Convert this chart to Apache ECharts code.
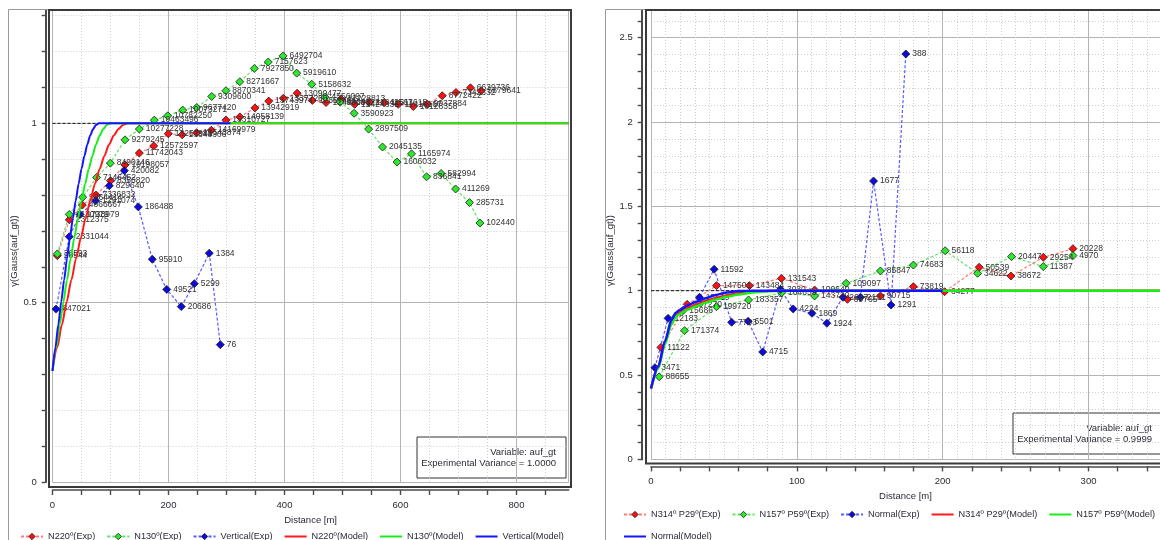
<!DOCTYPE html>
<html>
<head>
<meta charset="utf-8">
<script src="https://cdn.jsdelivr.net/npm/echarts@6/dist/echarts.min.js"></script>
<style>
  html, body { margin: 0; padding: 0; background: #fff; }
  #chart { width: 1160px; height: 540px; }
</style>
</head>
<body>
<div id="chart"></div>
<script>
// ---------- Left panel: horizontal + vertical directions ----------
const n220Dist  = [8.3, 29, 51.4, 75, 100, 125, 149.7, 174.5, 199.7, 223.6, 248.6, 273.8, 299, 323, 349, 372.8, 398, 421.8, 447.9, 471.6, 497.4, 521, 546, 572, 596, 622, 646, 672, 695.7, 720.6, 739];
const n220Gamma = [0.631, 0.731, 0.772, 0.800, 0.840, 0.884, 0.917, 0.937, 0.971, 0.968, 0.974, 0.981, 1.009, 1.018, 1.043, 1.062, 1.070, 1.084, 1.064, 1.058, 1.068, 1.053, 1.059, 1.058, 1.053, 1.047, 1.054, 1.077, 1.086, 1.099, 1.091];
const n220Pairs = [28544, 2312375, 4866667, 7336832, 8356820, 10198057, 11742043, 12572597, 13257981, 13348306, 13543874, 14169979, 13310727, 14058139, 13942919, 13743974, 13377260, 13090477, 12657401, 12498083, 12228813, 12424335, 11841567, 11611615, 11416167, 10128358, 9037884, 8772422, 7342332, 6639736, 5879641];

const n130Dist  = [8.3, 28.9, 52, 76, 99.7, 125, 149.7, 175.6, 198.6, 224.5, 248.6, 274.5, 299, 323, 348, 372, 397.5, 421, 447, 470, 496, 520, 545, 569, 594, 619, 645, 670, 695, 719, 737];
const n130Gamma = [0.636, 0.746, 0.794, 0.849, 0.889, 0.954, 0.984, 1.009, 1.021, 1.037, 1.044, 1.075, 1.091, 1.116, 1.153, 1.171, 1.188, 1.140, 1.109, 1.073, 1.059, 1.028, 0.984, 0.934, 0.892, 0.915, 0.851, 0.860, 0.817, 0.779, 0.722];
const n130Pairs = [36593, 2130979, 5264414, 7146452, 8490146, 9279245, 10277228, 10463496, 10782250, 10073271, 9677420, 9309600, 8870341, 8271667, 7927850, 7157623, 6492704, 5919610, 5158632, 4556097, 4069422, 3590923, 2897509, 2045135, 1606032, 1165974, 836841, 582994, 411269, 285731, 102440];

const vertDist  = [6, 29, 47.4, 74.5, 98, 123.9, 148, 172, 197, 222, 244.5, 270.3, 289.3];
const vertGamma = [0.482, 0.684, 0.746, 0.784, 0.826, 0.868, 0.767, 0.621, 0.537, 0.489, 0.553, 0.638, 0.383];
const vertPairs = [847021, 2331044, 1738979, 1291074, 829640, 420082, 186488, 95910, 49521, 20686, 5299, 1384, 76];

// fitted models (nugget 0.31, sill 1)
const n220ModelDist  = [0, 8.1, 16.3, 24.4, 32.5, 40.6, 48.8, 56.9, 65, 73.1, 81.3, 89.4, 97.5, 105.6, 113.8, 121.9, 130, 890];
const n220ModelGamma = [0.31, 0.375, 0.439, 0.502, 0.563, 0.623, 0.680, 0.734, 0.784, 0.831, 0.873, 0.909, 0.941, 0.966, 0.984, 0.996, 1, 1];
const n130ModelDist  = [0, 6.25, 12.5, 18.75, 25, 31.25, 37.5, 43.75, 50, 56.25, 62.5, 68.75, 75, 81.25, 87.5, 93.75, 100, 890];
const n130ModelGamma = [0.31, 0.375, 0.439, 0.502, 0.563, 0.623, 0.680, 0.734, 0.784, 0.831, 0.873, 0.909, 0.941, 0.966, 0.984, 0.996, 1, 1];
const vertModelDist  = [0, 5, 10, 15, 20, 25, 30, 35, 40, 45, 50, 55, 60, 65, 70, 75, 80, 307];
const vertModelGamma = [0.31, 0.375, 0.439, 0.502, 0.563, 0.623, 0.680, 0.734, 0.784, 0.831, 0.873, 0.909, 0.941, 0.966, 0.984, 0.996, 1, 1];

// ---------- Right panel: dipping directions + normal ----------
const n314Dist  = [6.8, 24.8, 44.9, 67.5, 89.4, 112.2, 134.7, 157.3, 179.9, 201.3, 225, 246.8, 269, 289.3];
const n314Gamma = [0.664, 0.919, 1.030, 1.030, 1.073, 1.004, 0.949, 0.969, 1.024, 0.994, 1.139, 1.087, 1.198, 1.249];
const n314Pairs = [11122, 137270, 147501, 143484, 131543, 100640, 89765, 90715, 73819, 64277, 50539, 38672, 29254, 20228];

const n157Dist  = [5.6, 23.0, 44.9, 66.9, 89.6, 112.2, 133.8, 157.3, 179.9, 201.7, 223.9, 247.2, 269, 289.3];
const n157Gamma = [0.490, 0.763, 0.905, 0.945, 0.988, 0.969, 1.044, 1.117, 1.152, 1.237, 1.103, 1.202, 1.143, 1.208];
const n157Pairs = [88655, 171374, 199720, 183357, 164653, 143720, 109097, 85847, 74683, 56118, 34622, 20447, 11387, 4970];

const normDist  = [2.7, 11.7, 21.9, 33.2, 43.3, 55.3, 66.6, 76.6, 88.8, 97.5, 110.4, 120.6, 131.6, 143.6, 152.6, 164.6, 174.7];
const normGamma = [0.544, 0.836, 0.882, 0.961, 1.127, 0.813, 0.819, 0.637, 1.008, 0.892, 0.866, 0.807, 0.961, 0.961, 1.650, 0.915, 2.403];
const normPairs = [3471, 12183, 15686, 15519, 11592, 7793, 6501, 4715, 3030, 4224, 1869, 1924, 2647, 2131, 1677, 1291, 388];

const n314ModelDist  = [0, 5, 9.5, 14, 17, 19.6, 25, 31, 38, 44.5, 52, 60, 70, 80, 90, 349];
const n314ModelGamma = [0.42, 0.55, 0.69, 0.81, 0.855, 0.872, 0.897, 0.918, 0.94, 0.957, 0.972, 0.985, 0.994, 0.999, 1, 1];
const n157ModelDist  = [0, 5, 9.5, 14, 17, 19.6, 25, 31, 38, 44.5, 52, 60, 70, 80, 90, 349];
const n157ModelGamma = [0.42, 0.54, 0.68, 0.80, 0.845, 0.862, 0.887, 0.908, 0.93, 0.948, 0.964, 0.978, 0.99, 0.997, 1, 1];
const normModelDist  = [0, 5, 9.5, 14, 17, 19.6, 25, 31, 38, 44.5, 52, 60, 70, 200];
const normModelGamma = [0.42, 0.55, 0.70, 0.826, 0.87, 0.886, 0.913, 0.935, 0.957, 0.975, 0.99, 0.998, 1, 1];

const sill = 1;

// axis ticks / labels
const leftXLabels  = [0, 200, 400, 600, 800];
const leftYLabels  = [0, 0.5, 1];
const rightXLabels = [0, 100, 200, 300];
const rightYLabels = [0, 0.5, 1, 1.5, 2, 2.5];

const leftNames  = ['N220º(Exp)', 'N130º(Exp)', 'Vertical(Exp)', 'N220º(Model)', 'N130º(Model)', 'Vertical(Model)'];
const rightNames = ['N314º P29º(Exp)', 'N157º P59º(Exp)', 'Normal(Exp)', 'N314º P29º(Model)', 'N157º P59º(Model)', 'Normal(Model)'];

// ---------- styling / layout ----------
const FONT = 'Liberation Sans, Arial, sans-serif';
const TXT = '#2a2a35';
const RED = '#ff1010', GREEN = '#2ee82e', BLUE = '#0a0ae0';
const RED_DASH = '#ff7a7a', GREEN_DASH = '#66e066', BLUE_DASH = '#5a5aff';
const RED_MODEL = '#ff1a1a', GREEN_MODEL = '#1aee1a', BLUE_MODEL = '#1414ff';
const MARK_COLORS = [RED, GREEN, BLUE];

function steps(a, b, s) {
  const out = [];
  for (let v = a; v <= b + 1e-9; v += s) out.push(Math.round(v * 1000) / 1000);
  return out;
}

const panels = [
  { grid: { left: 52.5, top: 10, width: 516.2, height: 472 },
    xMax: 890, xTickStep: 50, xTickMax: 850, xDot: 50, xMajor: 200, xLabels: leftXLabels, xOffset: 8,
    yMax: 1.316, yTickMax: 1.3, yDot: 0.1, yMajor: 0.5, yLabels: leftYLabels, yOffset: 6.8, yNameShift: 10 },
  { grid: { left: 651, top: 10, width: 515.5, height: 449.4 },
    xMax: 349, xTickStep: 20, xTickMax: 340, xDot: 10, xMajor: 100, xLabels: rightXLabels, xOffset: 7,
    yMax: 2.664, yTickMax: 2.6, yDot: 0.1, yMajor: 0.5, yLabels: rightYLabels, yOffset: 9.3, yNameShift: 32 }
];

const grids = [], xAxes = [], yAxes = [];
panels.forEach((p, gi) => {
  grids.push(Object.assign({ containLabel: false }, p.grid));
  const hidden = { axisLine: { show: false }, axisTick: { show: false }, axisLabel: { show: false } };
  // main axis: line, ticks, labels, title
  xAxes.push({
    type: 'value', gridIndex: gi, min: 0, max: p.xMax, interval: p.xTickStep,
    position: 'bottom', offset: p.xOffset,
    axisLine: { show: true, onZero: false, lineStyle: { color: '#4a4a4a', width: 1.6 } },
    axisTick: { show: true, length: 5, customValues: steps(0, p.xTickMax, p.xTickStep), lineStyle: { color: '#4a4a4a', width: 1.4 } },
    axisLabel: { show: true, customValues: p.xLabels, margin: 10, fontSize: 9.5, color: TXT, fontFamily: FONT },
    splitLine: { show: false },
    name: 'Distance [m]', nameLocation: 'middle', nameGap: 23,
    nameTextStyle: { fontSize: 9.5, color: TXT, fontFamily: FONT }
  });
  // dotted minor grid
  xAxes.push(Object.assign({
    type: 'value', gridIndex: gi, min: 0, max: p.xMax, interval: p.xDot,
    splitLine: { show: true, lineStyle: { color: '#cfcfcf', width: 1, type: [1, 2] } }
  }, hidden));
  // solid major grid
  xAxes.push(Object.assign({
    type: 'value', gridIndex: gi, min: 0, max: p.xMax, interval: p.xMajor,
    splitLine: { show: true, lineStyle: { color: '#b4b4b4', width: 1 } }
  }, hidden));

  yAxes.push({
    type: 'value', gridIndex: gi, min: 0, max: p.yMax, interval: 0.1,
    position: 'left', offset: p.yOffset,
    axisLine: { show: true, onZero: false, lineStyle: { color: '#4a4a4a', width: 2 } },
    axisTick: { show: true, length: 4, customValues: steps(0, p.yTickMax, 0.1), lineStyle: { color: '#4a4a4a', width: 1.4 } },
    axisLabel: { show: true, customValues: p.yLabels, margin: 9, fontSize: 9.5, color: TXT, fontFamily: FONT },
    splitLine: { show: false },
    name: 'γ(Gauss(auf_gt))', nameLocation: 'middle', nameGap: 22, nameRotate: 90,
    nameTextStyle: { fontSize: 9.5, color: TXT, fontFamily: FONT, padding: [0, p.yNameShift, 0, 0] }
  });
  yAxes.push(Object.assign({
    type: 'value', gridIndex: gi, min: 0, max: p.yMax, interval: p.yDot,
    splitLine: { show: true, lineStyle: { color: '#cfcfcf', width: 1, type: [1, 2] } }
  }, hidden));
  yAxes.push(Object.assign({
    type: 'value', gridIndex: gi, min: 0, max: p.yMax, interval: p.yMajor,
    splitLine: { show: true, lineStyle: { color: '#b4b4b4', width: 1 } }
  }, hidden));
});

function sillSeries(ai, xEnd) {
  return {
    name: 'sill', type: 'line', xAxisIndex: ai, yAxisIndex: ai,
    data: [[0, sill], [xEnd, sill]], symbol: 'none', silent: true,
    lineStyle: { color: '#111', width: 1, type: [3, 2] }, z: 2
  };
}

function expSeries(name, ai, dist, gamma, pairs, mark, dash) {
  return {
    name, type: 'line', xAxisIndex: ai, yAxisIndex: ai,
    data: dist.map((d, i) => [d, gamma[i], pairs[i]]),
    symbol: 'diamond', symbolSize: 8, showAllSymbol: true,
    itemStyle: { color: mark, borderColor: '#1a1a1a', borderWidth: 0.8 },
    lineStyle: { color: dash, width: 1.2, type: [3, 2] },
    label: { show: true, position: 'right', distance: 2, formatter: p => p.value[2],
             fontSize: 8.5, color: '#333', fontFamily: FONT },
    emphasis: { disabled: true }, z: 3
  };
}

function modelSeries(name, ai, dist, gamma, color, width) {
  return {
    name, type: 'line', xAxisIndex: ai, yAxisIndex: ai,
    data: dist.map((d, i) => [d, gamma[i]]),
    symbol: 'none', smooth: 0.25, smoothMonotone: 'x',
    itemStyle: { color }, lineStyle: { color, width },
    emphasis: { disabled: true }, z: 4
  };
}

const L = 0, R = 3;
const series = [
  sillSeries(L, 890),
  expSeries(leftNames[0], L, n220Dist, n220Gamma, n220Pairs, RED, RED_DASH),
  expSeries(leftNames[1], L, n130Dist, n130Gamma, n130Pairs, GREEN, GREEN_DASH),
  expSeries(leftNames[2], L, vertDist, vertGamma, vertPairs, BLUE, BLUE_DASH),
  modelSeries(leftNames[3], L, n220ModelDist, n220ModelGamma, RED_MODEL, 2),
  modelSeries(leftNames[4], L, n130ModelDist, n130ModelGamma, GREEN_MODEL, 2),
  modelSeries(leftNames[5], L, vertModelDist, vertModelGamma, BLUE_MODEL, 2),

  sillSeries(R, 349),
  expSeries(rightNames[0], R, n314Dist, n314Gamma, n314Pairs, RED, RED_DASH),
  expSeries(rightNames[1], R, n157Dist, n157Gamma, n157Pairs, GREEN, GREEN_DASH),
  expSeries(rightNames[2], R, normDist, normGamma, normPairs, BLUE, BLUE_DASH),
  modelSeries(rightNames[3], R, n314ModelDist, n314ModelGamma, RED_MODEL, 2.5),
  modelSeries(rightNames[4], R, n157ModelDist, n157ModelGamma, GREEN_MODEL, 2.5),
  modelSeries(rightNames[5], R, normModelDist, normModelGamma, BLUE_MODEL, 2.5)
];

// legend entries: diamonds for experimental curves, bare lines for the models
function legendItems(names) {
  return names.map((name, i) => i < 3
    ? { name, itemStyle: { color: MARK_COLORS[i], borderColor: '#1a1a1a', borderWidth: 0.8 } }
    : { name, itemStyle: { opacity: 0 } });
}
const legendText = { fontSize: 9.2, color: TXT, fontFamily: FONT };
const legendBase = { itemWidth: 22, itemHeight: 8, itemGap: 11, padding: 0, width: 700,
                     selectedMode: false, textStyle: legendText };
const legends = [
  Object.assign({ data: legendItems(leftNames), left: 20, top: 532 }, legendBase),
  Object.assign({ data: legendItems(rightNames).slice(0, 5), left: 623, top: 510 }, legendBase),
  Object.assign({ data: legendItems(rightNames).slice(5), left: 623, top: 532 }, legendBase)
];

// plot frames, panel borders and variance boxes
function frame(x0, y0, x1, y1) {
  return { type: 'rect', z: 50, silent: true,
    shape: { x: x0, y: y0, width: x1 - x0, height: y1 - y0 },
    style: { fill: null, stroke: '#3a3a3a', lineWidth: 2 } };
}
function panelEdge(x, y, xr) {
  return { type: 'polyline', z: 50, silent: true,
    shape: { points: [[x, 540], [x, y], [xr, y]] },
    style: { fill: null, stroke: '#9a9a9a', lineWidth: 1 } };
}
function infoBox(x0, y0, x1, y1, variance) {
  return { type: 'group', z: 60, silent: true, children: [
    { type: 'rect', shape: { x: x0, y: y0, width: x1 - x0, height: y1 - y0 },
      style: { fill: '#fff', stroke: '#333', lineWidth: 1 } },
    { type: 'text', style: { x: x1 - 10, y: y0 + 15, text: 'Variable: auf_gt', textAlign: 'right',
      textVerticalAlign: 'middle', fontSize: 9.5, fontFamily: FONT, fill: TXT } },
    { type: 'text', style: { x: x1 - 10, y: y0 + 26, text: 'Experimental Variance = ' + variance, textAlign: 'right',
      textVerticalAlign: 'middle', fontSize: 9.5, fontFamily: FONT, fill: TXT } }
  ] };
}

const graphics = [
  panelEdge(8.5, 9.5, 49),
  panelEdge(605.5, 9.5, 646),
  frame(49, 10, 571, 487),
  frame(646, 10, 1170, 463.5),
  infoBox(417, 437, 566, 478, '1.0000'),
  infoBox(1013, 413, 1162, 454, '0.9999')
];

const chart = echarts.init(document.getElementById('chart'), null, { renderer: 'canvas' });
chart.setOption({
  animation: false,
  backgroundColor: '#fff',
  grid: grids, xAxis: xAxes, yAxis: yAxes,
  legend: legends, series, graphic: graphics
});
</script>
</body>
</html>
